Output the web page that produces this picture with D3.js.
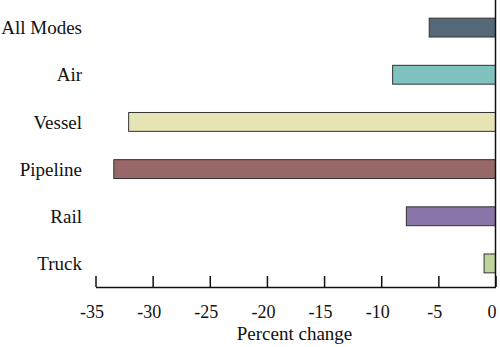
<!DOCTYPE html>
<html>
<head>
<meta charset="utf-8">
<script src="https://cdn.jsdelivr.net/npm/d3@7"></script>
<style>
  html, body { margin: 0; padding: 0; background: #fff; }
  svg { display: block; }
  text { font-family: "Liberation Serif", "Times New Roman", serif; fill: #111; }
</style>
</head>
<body>
<svg id="chart" width="500" height="347"></svg>
<script>
// Percent change in freight by mode
const modes = ["All Modes", "Air", "Vessel", "Pipeline", "Rail", "Truck"];
const changes = [-5.8, -9.0, -32.1, -33.4, -7.8, -1.0];
const colors = ["#546878", "#80c2bf", "#e6e4b5", "#986767", "#8a75a8", "#bcd59a"];
const tickValues = [-35, -30, -25, -20, -15, -10, -5, 0];
const axisTitle = "Percent change";

const svg = d3.select("#chart");

const x = d3.scaleLinear().domain([-35, 0]).range([95.5, 495.5]);
const y = d3.scaleBand().domain(modes).range([4, 287]).paddingInner(0.6).paddingOuter(0.3);

// bars
svg.append("g")
  .selectAll("rect")
  .data(modes)
  .join("rect")
  .attr("x", (d, i) => x(changes[i]))
  .attr("y", d => y(d))
  .attr("width", (d, i) => x(0) - x(changes[i]))
  .attr("height", y.bandwidth())
  .attr("fill", (d, i) => colors[i])
  .attr("stroke", "#333")
  .attr("stroke-width", 1);

// x axis with ticks pointing up into the plot
const xAxis = svg.append("g")
  .attr("transform", "translate(0,287)")
  .call(d3.axisBottom(x).tickValues(tickValues).tickFormat(d => String(d)).tickSizeInner(-11).tickSizeOuter(0).tickPadding(18));
xAxis.select(".domain").attr("stroke", "#111").attr("stroke-width", 1.5);
xAxis.selectAll(".tick line").attr("stroke", "#111").attr("stroke-width", 1.5);
xAxis.selectAll(".tick text")
  .attr("font-size", 18)
  .attr("dx", -4)
  .attr("fill", "#111");

// vertical zero line
svg.append("line")
  .attr("x1", x(0)).attr("x2", x(0))
  .attr("y1", 0).attr("y2", 287)
  .attr("stroke", "#111").attr("stroke-width", 1.5);

// category labels
svg.append("g")
  .selectAll("text")
  .data(modes)
  .join("text")
  .attr("x", 82)
  .attr("y", d => y(d) + y.bandwidth() / 2)
  .attr("dy", "0.35em")
  .attr("text-anchor", "end")
  .attr("font-size", 19)
  .text(d => d);

// axis title
svg.append("text")
  .attr("x", (x(-35) + x(0)) / 2 - 1)
  .attr("y", 340)
  .attr("text-anchor", "middle")
  .attr("font-size", 19)
  .text(axisTitle);
</script>
</body>
</html>
